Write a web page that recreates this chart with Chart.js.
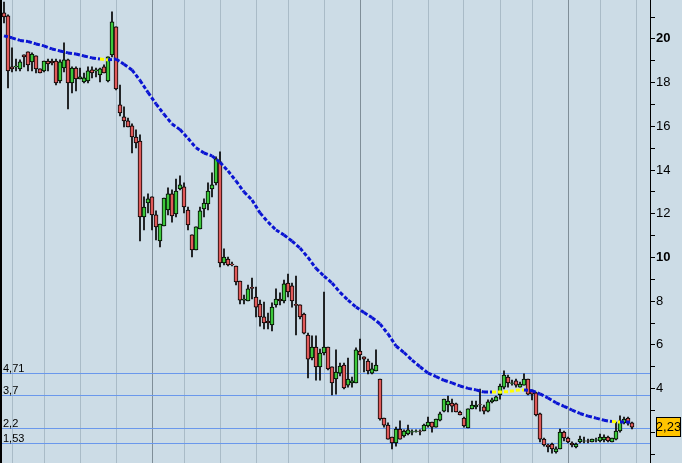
<!DOCTYPE html>
<html>
<head>
<meta charset="utf-8">
<script src="https://cdn.jsdelivr.net/npm/chart.js@4.4.0/dist/chart.umd.min.js"></script>
<style>
  html, body { margin: 0; padding: 0; background: #ccdce6; }
  #wrap { width: 682px; height: 463px; position: relative; }
</style>
</head>
<body>
<div id="wrap"><canvas id="mychart"></canvas></div>
<script>
// weekly candles, first week starts 2007-04-23
var startWeek = '2007-04-23';
var weekCount = 162;

var open = [21.19,21.05,18.72,18.72,18.63,19.27,19.41,18.95,19.22,18.63,18.54,18.99,18.99,18.99,18.08,18.67,19.04,17.99,18.67,18.17,
  18.03,18.08,18.58,18.54,18.35,18.72,18.08,19.27,20.55,16.98,16.43,16.25,16.02,15.51,15.33,11.85,12.49,12.77,11.95,10.76,
  11.44,12.17,12.91,11.99,13.14,13.23,12.17,11.03,10.34,11.30,12.22,12.45,13.14,13.41,14.37,9.75,9.93,9.70,9.61,8.92,
  8.05,8.01,8.63,8.19,7.87,7.28,7.09,6.91,7.83,8.10,8.01,8.83,8.70,7.85,7.83,7.41,6.45,5.40,5.90,4.99,
  5.63,5.90,4.99,4.44,4.71,5.08,4.16,4.26,4.26,5.72,5.45,5.26,4.71,4.81,4.44,2.65,2.33,1.78,1.51,2.15,
  1.83,1.92,2.01,2.04,2.06,2.06,2.29,2.47,2.24,2.56,2.97,3.25,3.34,3.30,2.93,2.65,2.20,3.07,3.16,3.27,
  3.16,2.97,3.39,3.43,3.71,4.07,4.53,4.24,4.35,4.07,4.16,4.44,3.89,3.80,2.84,1.69,1.42,1.46,1.10,1.24,
  2.01,1.74,1.51,1.33,1.56,1.59,1.61,1.56,1.64,1.60,1.65,1.78,1.56,1.69,2.06,2.43,2.65,2.43];
var high = [21.69,21.10,19.59,19.08,19.04,19.27,19.41,19.36,19.22,18.63,18.99,19.08,19.08,19.08,19.04,19.82,19.08,18.72,18.72,18.67,
  18.44,18.72,18.72,18.67,18.67,18.81,19.18,21.24,20.55,17.89,16.89,16.38,16.11,15.84,15.61,12.77,12.91,12.77,12.13,11.53,
  12.72,13.18,13.09,13.59,13.73,13.41,12.31,11.03,11.40,12.31,12.68,13.41,13.87,14.60,14.83,10.39,10.02,9.79,9.61,8.92,
  8.28,8.74,9.06,8.65,8.05,7.96,7.46,7.92,8.56,8.38,8.97,9.24,8.83,9.15,7.83,7.46,6.54,6.41,6.41,5.81,
  8.42,5.90,4.99,5.77,5.17,5.17,5.40,4.53,5.86,6.27,5.45,5.35,5.17,5.77,4.44,2.65,2.43,1.78,2.24,2.52,
  2.11,2.33,2.11,2.11,2.11,2.38,2.70,2.47,2.61,2.93,3.52,3.66,3.52,3.34,2.97,2.70,3.07,3.43,3.43,3.98,
  3.25,3.48,3.57,3.66,4.21,4.81,4.62,4.39,4.44,4.30,4.67,4.44,3.94,3.84,2.88,1.74,1.46,1.51,1.33,2.15,
  2.06,1.78,1.56,1.51,1.83,1.78,1.69,1.69,1.74,1.92,1.88,1.83,1.74,2.47,2.75,2.70,2.70,2.47];
var low = [20.73,17.76,18.49,18.54,18.54,18.72,18.54,18.54,18.44,18.44,18.49,18.54,18.81,17.89,17.99,18.49,16.80,17.53,17.62,18.17,
  17.99,17.99,18.22,18.26,18.03,18.44,18.03,19.18,17.67,16.48,15.97,15.97,14.78,15.01,10.76,11.26,12.04,11.26,10.80,10.48,
  11.44,11.95,11.62,11.85,13.09,12.04,11.26,10.02,10.34,11.30,11.85,12.17,12.77,13.32,9.57,9.66,9.61,9.61,8.74,7.87,
  7.87,8.01,8.10,7.28,6.86,6.73,6.73,6.64,7.73,7.83,7.92,8.19,7.73,6.45,7.19,6.50,4.49,5.31,4.39,4.39,
  5.54,4.85,3.71,3.75,4.58,3.98,4.07,4.07,4.26,5.31,4.76,4.67,4.67,4.81,2.56,2.24,1.69,1.24,1.37,1.69,
  1.78,1.88,1.88,2.01,1.88,2.06,2.24,2.01,2.24,2.52,2.93,2.93,2.93,2.93,2.79,2.24,2.20,3.07,3.07,2.97,
  2.84,2.93,3.34,3.43,3.52,3.98,4.07,4.16,4.07,4.07,4.16,3.71,3.48,2.75,1.56,1.37,1.10,1.05,1.05,1.24,
  1.60,1.51,1.33,1.28,1.51,1.51,1.51,1.56,1.56,1.56,1.56,1.56,1.56,1.65,2.01,2.38,2.33,2.15];
var close = [21.01,18.54,18.63,18.76,18.95,19.18,18.81,19.31,18.63,18.44,18.99,18.86,18.90,17.99,18.95,19.04,17.99,18.67,18.17,18.26,
  18.22,18.54,18.44,18.58,18.63,18.44,19.18,20.78,17.71,16.61,16.25,15.97,15.51,15.24,11.85,12.31,12.68,11.95,11.40,11.53,
  12.72,12.91,11.90,13.04,13.32,12.31,11.49,10.34,11.40,12.13,12.49,13.04,13.32,14.51,9.75,10.02,9.66,9.66,8.88,8.05,
  8.10,8.56,8.58,7.73,7.28,7.00,7.00,7.73,8.10,8.01,8.79,8.42,8.01,7.81,7.28,6.54,5.35,5.90,4.99,5.63,
  5.90,4.90,4.26,4.76,5.03,4.03,4.44,4.35,5.77,5.54,5.35,4.81,4.90,5.08,2.61,2.33,1.69,1.51,2.15,1.69,
  2.06,2.11,2.03,2.06,2.04,2.33,2.47,2.24,2.61,2.84,3.52,3.43,3.20,2.93,2.79,2.29,3.07,3.25,3.25,3.25,
  2.97,3.39,3.48,3.62,4.12,4.62,4.26,4.26,4.16,4.21,4.44,3.75,3.75,2.79,1.69,1.42,1.33,1.24,1.24,2.01,
  1.74,1.56,1.42,1.46,1.69,1.61,1.59,1.69,1.66,1.78,1.78,1.60,1.74,2.06,2.52,2.61,2.43,2.23];

// moving average read every second week: [week, value]
var maPoints = [[0,20.14],[2,20.05],[4,19.93],[6,19.88],[8,19.77],[10,19.68],[12,19.54],[14,19.45],[16,19.36],[18,19.31],
  [20,19.22],[22,19.13],[24,19.08],[26,19.04],[28,19.08],[30,18.84],[32,18.58],[34,18.10],[36,17.55],[38,17.03],
  [40,16.55],[42,16.11],[44,15.85],[46,15.45],[48,15.02],[50,14.78],[52,14.65],[54,14.35],[56,13.96],[58,13.50],
  [60,13.00],[62,12.63],[64,12.04],[66,11.62],[68,11.26],[70,11.03],[72,10.75],[74,10.43],[76,10.00],[78,9.50],
  [80,9.15],[82,8.83],[84,8.40],[86,8.05],[88,7.73],[90,7.48],[92,7.25],[94,6.96],[96,6.50],[98,5.95],
  [100,5.65],[102,5.30],[104,5.00],[106,4.71],[108,4.55],[110,4.38],[112,4.26],[114,4.12],[116,4.01],[118,3.94],
  [120,3.84],[122,3.84],[124,3.84],[126,3.86],[128,3.92],[130,3.94],[132,3.90],[134,3.76],[136,3.57],[138,3.35],
  [140,3.19],[142,3.02],[144,2.86],[146,2.74],[148,2.65],[150,2.55],[152,2.49],[154,2.47],[156,2.47],[157,2.46]];

var levels = [4.71, 3.7, 2.2, 1.53];
var lastPrice = 2.23;

var FONT = '"Liberation Sans", Arial, sans-serif';

var labels = [];
var d0 = new Date(startWeek + 'T00:00:00Z');
for (var i = 0; i < weekCount; i++) {
  labels.push(new Date(d0.getTime() + i * 7 * 86400000).toISOString().slice(0, 10));
}
function monthOf(i) { return parseInt(labels[i].slice(5, 7), 10); }

var maData = [];
for (var i = 0; i < close.length; i++) maData.push(null);
maPoints.forEach(function(p) { maData[p[0]] = p[1]; });

var wicks = low.map(function(l, i) { return [l, high[i]]; });
var bodies = open.map(function(o, i) { return [o, close[i]]; });
var bodyColors = open.map(function(o, i) { return close[i] >= o ? '#3cc83c' : '#e05a5a'; });

function fmt(v) { return String(v).replace('.', ','); }

var levelLines = {
  id: 'levelLines',
  beforeDatasetsDraw: function(chart) {
    var c = chart.ctx, area = chart.chartArea, y = chart.scales.y;
    c.save();
    c.strokeStyle = '#6a98ec';
    c.lineWidth = 1;
    c.fillStyle = '#000';
    c.font = '11px ' + FONT;
    c.textBaseline = 'alphabetic';
    levels.forEach(function(v) {
      var py = Math.round(y.getPixelForValue(v)) + 0.5;
      c.beginPath();
      c.moveTo(0, py);
      c.lineTo(area.right, py);
      c.stroke();
      c.fillText(fmt(v), 3, py - 2);
    });
    c.restore();
  }
};

var frame = {
  id: 'frame',
  afterDraw: function(chart) {
    var c = chart.ctx, y = chart.scales.y;
    c.save();
    c.fillStyle = '#000';
    c.fillRect(0, 0, 2, chart.height);
    var py = Math.round(y.getPixelForValue(lastPrice));
    c.fillStyle = '#ffc400';
    c.fillRect(656.5, py - 9.5, 24, 19);
    c.strokeStyle = '#000';
    c.lineWidth = 1;
    c.strokeRect(656.5, py - 9.5, 24, 19);
    c.fillStyle = '#000';
    c.font = '13px ' + FONT;
    c.textAlign = 'center';
    c.textBaseline = 'middle';
    c.fillText(fmt(lastPrice), 668.5, py + 0.5);
    c.restore();
  }
};

var ctx = document.getElementById('mychart');
var chart = new Chart(ctx, {
  type: 'bar',
  data: {
    labels: labels,
    datasets: [
      {
        type: 'line',
        label: 'MA',
        data: maData,
        borderColor: '#0a14d2',
        borderWidth: 3,
        borderDash: [4, 2],
        pointRadius: 0,
        spanGaps: true,
        fill: false,
        order: 0,
        segment: {
          borderColor: function(s) {
            var k = s.p1DataIndex;
            return close[k] > maData[k] ? '#ffff00' : '#0a14d2';
          }
        }
      },
      {
        label: 'body',
        data: bodies,
        backgroundColor: bodyColors,
        borderColor: '#000',
        borderWidth: 1,
        borderSkipped: false,
        barThickness: 4,
        grouped: false,
        order: 1
      },
      {
        label: 'wick',
        data: wicks,
        backgroundColor: '#000',
        borderWidth: 0,
        barThickness: 1,
        grouped: false,
        order: 2
      }
    ]
  },
  options: {
    responsive: true,
    maintainAspectRatio: false,
    animation: false,
    devicePixelRatio: 1,
    layout: { padding: { left: 2, right: 0, top: 0, bottom: 0 } },
    plugins: { legend: { display: false }, tooltip: { enabled: false } },
    scales: {
      x: {
        type: 'category',
        offset: true,
        border: { display: false },
        ticks: { display: false, autoSkip: false },
        grid: {
          offset: false,
          drawTicks: false,
          lineWidth: 1,
          color: function(c) {
            var i = c.index;
            if (i == null || i === 0 || i >= labels.length) return 'rgba(0,0,0,0)';
            var m = monthOf(i);
            if (m === monthOf(i - 1) || m % 2 === 0) return 'rgba(0,0,0,0)';
            return m === 1 ? '#7f8e98' : '#a9bbc7';
          }
        },
        afterFit: function(s) {
          s.height = 0;
          s.paddingLeft = 0; s.paddingRight = 0; s.paddingTop = 0; s.paddingBottom = 0;
        }
      },
      y: {
        position: 'right',
        min: 0.595,
        max: 21.78,
        border: { display: true, color: '#000', width: 1 },
        grid: { drawOnChartArea: false, color: '#000', tickLength: 5 },
        ticks: {
          stepSize: 1,
          includeBounds: false,
          autoSkip: false,
          color: '#000',
          padding: 1,
          font: function(c) {
            var bold = c.tick && c.tick.value % 10 === 0;
            return { family: FONT, size: 13, weight: bold ? 'bold' : 'normal' };
          },
          callback: function(v) { return (v % 2 === 0 && v >= 2) ? String(v) : ''; }
        },
        afterFit: function(s) {
          s.width = 32;
          s.paddingTop = 0; s.paddingBottom = 0;
        }
      }
    }
  },
  plugins: [levelLines, frame]
});
</script>
</body>
</html>
